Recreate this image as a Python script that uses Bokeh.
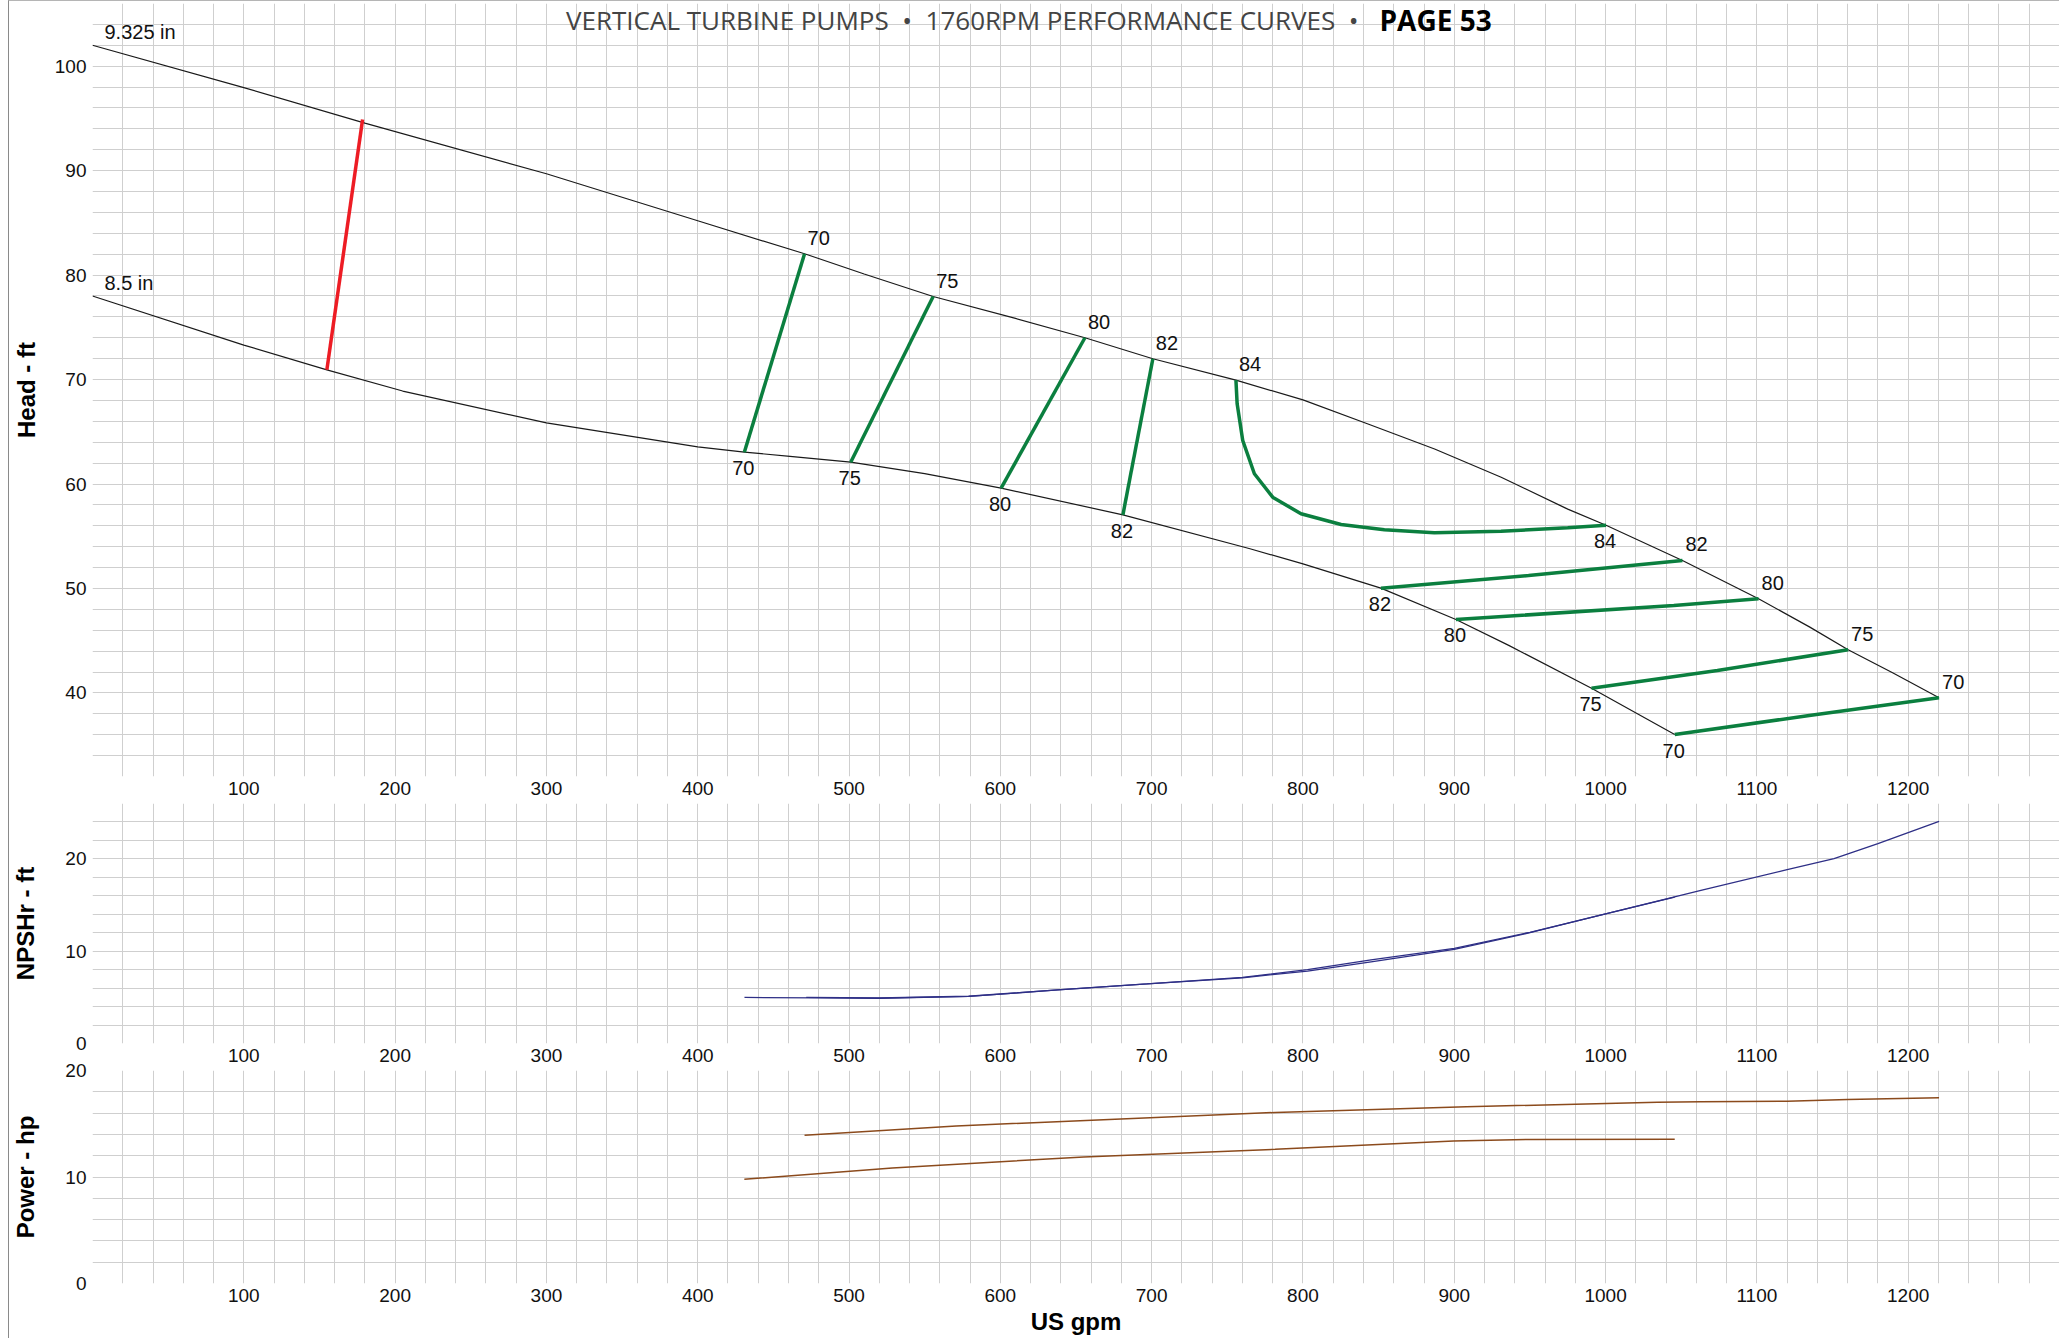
import numpy as np
from bokeh.plotting import figure
from bokeh.layouts import column
from bokeh.models import FixedTicker, Label, Range1d
from bokeh.core.properties import value
from bokeh.embed import file_html
from bokeh.resources import INLINE

# ---------------- texts ----------------
TITLE_MAIN = "VERTICAL TURBINE PUMPS\u00a0\u00a0\u2022\u00a0\u00a01760RPM PERFORMANCE CURVES\u00a0\u00a0\u2022"
TITLE_PAGE = "PAGE 53"
X_LABEL = "US gpm"
HEAD_LABEL = "Head - ft"
NPSH_LABEL = "NPSHr - ft"
POWER_LABEL = "Power - hp"

# ---------------- ticks ----------------
flow_ticks = [100, 200, 300, 400, 500, 600, 700, 800, 900, 1000, 1100, 1200]
head_ticks = [40, 50, 60, 70, 80, 90, 100]
npsh_ticks = [0, 10, 20]
power_ticks = [0, 10, 20]

# ---------------- head curves ----------------
imp_names = ["9.325 in", "8.5 in"]
head_flow_9325 = [0, 100, 180, 300, 400, 470.6, 510, 555.6, 610, 655.9, 700.8, 755.7, 800, 843, 887, 931, 975, 1000.3, 1050.8, 1101.1, 1135, 1160.3, 1190, 1220.4]
head_9325 = [102.0, 97.95, 94.55, 89.7, 85.2, 82.04, 80.1, 77.95, 75.85, 74.0, 71.99, 69.95, 68.05, 65.75, 63.35, 60.65, 57.6, 56.05, 52.68, 49.01, 46.3, 44.13, 41.9, 39.53]
head_flow_85 = [0, 100, 154.9, 205, 300, 400, 430.8, 461, 501.1, 550, 600.5, 681.0, 765, 800, 851.5, 901.1, 936, 990.7, 1045.7]
head_85 = [78.0, 73.3, 70.93, 68.9, 65.85, 63.55, 63.05, 62.65, 62.09, 61.0, 59.6, 57.05, 53.8, 52.35, 50.03, 47.03, 44.55, 40.45, 36.02]

# ---------------- efficiency iso-lines (%) ----------------
eff_names = ["70", "75", "80", "82", "84", "82", "80", "75", "70"]
eff_flow = [
    [430.8, 470.6],
    [501.1, 555.6],
    [600.5, 655.9],
    [681.0, 700.8],
    [755.7, 756.5, 760.2, 767.9, 780.0, 798.7, 825.2, 853.8, 886.8, 930.9, 975.0, 1000.3],
    [851.5, 949.1, 1050.8],
    [901.1, 1045.1, 1101.1],
    [990.7, 1073.9, 1160.3],
    [1045.7, 1134.6, 1220.4],
]
eff_head = [
    [63.05, 82.04],
    [62.09, 77.95],
    [59.6, 74.0],
    [57.05, 71.99],
    [69.95, 67.68, 64.17, 60.98, 58.74, 57.15, 56.12, 55.62, 55.33, 55.48, 55.81, 56.05],
    [50.03, 51.24, 52.68],
    [47.03, 48.37, 49.01],
    [40.45, 42.15, 44.13],
    [36.02, 37.84, 39.53],
]

# minimum-flow (red) line
minflow_flow = [154.9, 178.5]
minflow_head = [70.93, 94.9]

# ---------------- NPSHr ----------------
npsh_flow_85 = [430.9, 480, 520, 579, 638, 697, 760, 803, 845, 900, 950, 1000, 1045.7]
npsh_85 = [4.99, 4.95, 4.9, 5.1, 5.8, 6.45, 7.17, 8.0, 9.05, 10.31, 12.05, 14.05, 15.85]
npsh_flow_9325 = [471.7, 520, 579, 638, 697, 760, 803, 845, 900, 950, 1000, 1063, 1120, 1151, 1180, 1220.4]
npsh_9325 = [5.0, 4.93, 5.12, 5.8, 6.45, 7.12, 7.85, 8.85, 10.2, 12.0, 14.05, 16.58, 18.83, 20.02, 21.65, 24.07]

# ---------------- Power ----------------
power_flow_9325 = [470.6, 570.8, 672, 781.6, 908, 1034.4, 1063, 1120, 1160, 1220.4]
power_9325 = [13.92, 14.8, 15.4, 16.06, 16.59, 17.03, 17.06, 17.12, 17.28, 17.43]
power_flow_85 = [430.8, 528.6, 655.1, 781.6, 899.6, 950.2, 1045.7]
power_85 = [9.78, 10.85, 11.88, 12.6, 13.39, 13.52, 13.55]

# ---------------- styling / layout ----------------
PAGE_LEFT = 9     # page x where every canvas starts (after margin + border)
W = 2050          # canvas width of every panel
LEFT = 83         # space left of the plotting frame
X_END = 1300
FONT = "Liberation Sans"
GRID = "#cfcfcf"
GREEN = "#0b7f3f"
RED = "#ed1c24"
NAVY = "#2e2f86"
BROWN = "#8b4a1c"

HEAD_RANGE = (32, 106)
HEAD_FRAME_H = 773


def make_fig(height, y_range, top, bottom, yticks, ylabel, ylabel_standoff,
             xlabel=None, xstandoff=5):
    p = figure(width=W, height=height, x_range=Range1d(0, X_END), y_range=Range1d(*y_range),
               output_backend="svg", toolbar_location=None,
               min_border_left=LEFT, min_border_right=0, min_border_top=top,
               min_border_bottom=bottom)
    p.outline_line_color = None
    p.background_fill_color = "white"
    p.border_fill_color = "white"
    p.xaxis.ticker = FixedTicker(ticks=flow_ticks)
    p.yaxis.ticker = FixedTicker(ticks=yticks)
    p.xgrid.ticker = FixedTicker(ticks=list(np.arange(0, X_END + 1, 20)))
    p.ygrid.ticker = FixedTicker(ticks=list(np.arange(0, 120, 2)))
    for g in (p.xgrid, p.ygrid):
        g.grid_line_color = GRID
        g.grid_line_width = 1
    for ax in (p.xaxis, p.yaxis):
        ax.axis_line_color = None
        ax.major_tick_line_color = None
        ax.minor_tick_line_color = None
        ax.major_tick_out = 0
        ax.major_tick_in = 0
        ax.major_label_text_font = FONT
        ax.major_label_text_font_size = "19px"
        ax.major_label_text_color = "#111111"
        ax.axis_label_text_font = FONT
        ax.axis_label_text_font_size = "24px"
        ax.axis_label_text_font_style = "bold"
        ax.axis_label_text_color = "#000000"
    p.xaxis.major_label_standoff = xstandoff
    p.yaxis.major_label_standoff = 6
    p.yaxis.axis_label = ylabel
    p.yaxis.axis_label_standoff = ylabel_standoff
    if xlabel:
        p.xaxis.axis_label = xlabel
        p.xaxis.axis_label_standoff = 3
    return p


# ---------- Head ----------
p1 = make_fig(2 + HEAD_FRAME_H + 27, HEAD_RANGE, 2, 27, head_ticks, HEAD_LABEL, 12)

p1.line(head_flow_9325, head_9325, line_color="#1a1a1a", line_width=1.2)
p1.line(head_flow_85, head_85, line_color="#1a1a1a", line_width=1.2)
p1.line(minflow_flow, minflow_head, line_color=RED, line_width=3.5)

for fl, hd in zip(eff_flow, eff_head):
    p1.line(fl, hd, line_color=GREEN, line_width=3.5)

# impeller labels at start of each curve
p1.text(x=[head_flow_9325[0], head_flow_85[0]], y=[head_9325[0], head_85[0]], text=imp_names,
        x_offset=12, y_offset=-13, text_align="left", text_baseline="middle",
        text_font=value(FONT), text_font_size="20px", text_color="#111111")

# efficiency labels: above-right at the upper end, below at the other end
up_x, up_y, lo_x, lo_y = [], [], [], []
for fl, hd in zip(eff_flow, eff_head):
    i_up = int(np.argmax(hd))
    i_lo = len(hd) - 1 if i_up == 0 else 0
    up_x.append(fl[i_up]); up_y.append(hd[i_up])
    lo_x.append(fl[i_lo]); lo_y.append(hd[i_lo])
p1.text(x=up_x, y=up_y, text=eff_names, x_offset=3, y_offset=-16, text_align="left",
        text_baseline="middle", text_font=value(FONT), text_font_size="20px", text_color="#111111")
p1.text(x=lo_x, y=lo_y, text=eff_names, x_offset=-1, y_offset=16, text_align="center",
        text_baseline="middle", text_font=value(FONT), text_font_size="20px", text_color="#111111")

# title (inside the top of the head chart); page pixel -> data conversion
px_per_gpm = (W - LEFT) / X_END
px_per_ft = HEAD_FRAME_H / (HEAD_RANGE[1] - HEAD_RANGE[0])
FRAME_X0 = PAGE_LEFT + LEFT
def page_to_head(px, py):
    return (px - FRAME_X0) / px_per_gpm, HEAD_RANGE[1] - (py - 3) / px_per_ft

tx1, ty = page_to_head(1358, 19.5)
tx2, _ = page_to_head(1379, 19.5)
p1.add_layout(Label(x=tx1, y=ty, text=TITLE_MAIN, text_align="right", text_baseline="middle",
                    text_font="Open Sans", text_font_size="26px", text_color="#444444"))
p1.add_layout(Label(x=tx2, y=ty, text=TITLE_PAGE, text_align="left", text_baseline="middle",
                    text_font="Open Sans", text_font_size="28px", text_font_style="bold",
                    text_color="#000000"))

# ---------- NPSHr ----------
p2 = make_fig(240 + 27, (0, 26), 0, 27, npsh_ticks, NPSH_LABEL, 23)
p2.line(npsh_flow_85, npsh_85, line_color=NAVY, line_width=1.3)
p2.line(npsh_flow_9325, npsh_9325, line_color=NAVY, line_width=1.3)

# ---------- Power ----------
OVER = 14
p3 = make_fig(OVER + 213 + 55, (0, 20), OVER, 55, power_ticks, POWER_LABEL, 23, xlabel=X_LABEL)
p3.border_fill_color = None
p3.styles = {"margin-top": f"-{OVER}px"}
p3.line(power_flow_9325, power_9325, line_color=BROWN, line_width=1.5)
p3.line(power_flow_85, power_85, line_color=BROWN, line_width=1.5)

layout = column(p1, p2, p3, spacing=0,
                styles={"margin-left": f"{PAGE_LEFT - 1}px", "border-left": "1px solid #8a8a8a",
                        "border-top": "1px solid #b5b5b5"})

open("out.html", "w").write(file_html(layout, INLINE))
